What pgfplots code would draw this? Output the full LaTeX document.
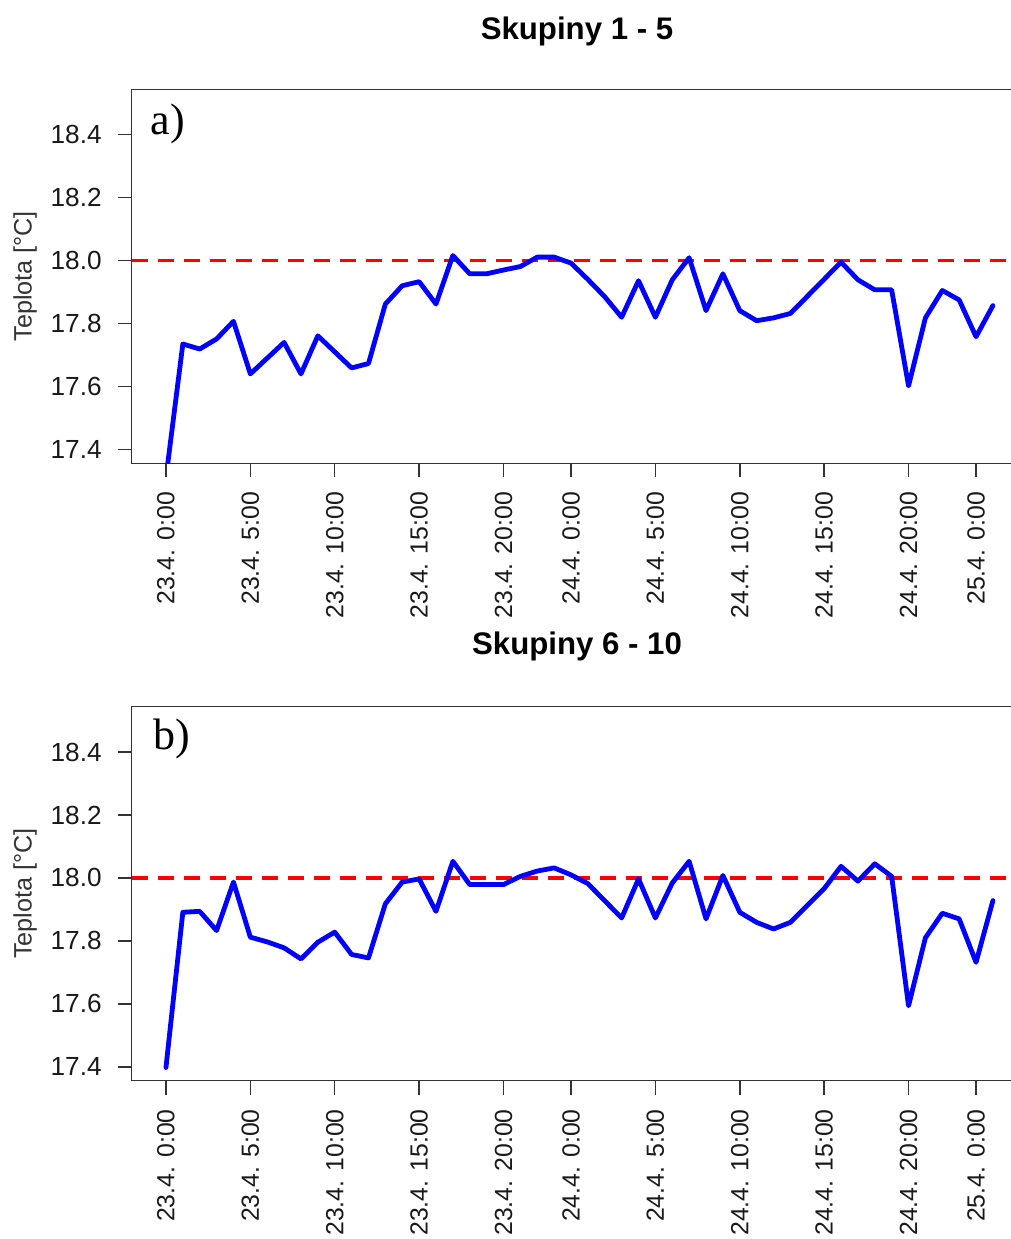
\documentclass[border=0pt]{standalone}
\usepackage{fontspec}
\setmainfont{Liberation Sans}
\newfontfamily\panelfont{Liberation Serif}
\usepackage{pgfplots}
\usepackage{pgfplotstable}
\pgfplotsset{compat=1.18}

% Hourly mean temperature, groups 1-5 (hours from 23.4. 0:00)
\pgfplotstableread{
h T
0 17.310
1 17.735
2 17.719
3 17.751
4 17.807
5 17.640
7 17.740
8 17.640
9 17.761
11 17.659
12 17.673
13 17.862
14 17.920
15 17.933
16 17.862
17 18.016
18 17.958
19 17.958
20 17.970
21 17.981
22 18.011
23 18.011
24 17.992
25 17.940
26 17.885
27 17.820
28 17.936
29 17.820
30 17.939
31 18.009
32 17.841
33 17.958
34 17.841
35 17.809
36 17.818
37 17.832
40 17.995
41 17.939
42 17.907
43 17.907
44 17.602
45 17.818
46 17.905
47 17.875
48 17.758
49 17.857
}\groupsA

% Hourly mean temperature, groups 6-10
\pgfplotstableread{
h T
0 17.398
1 17.891
2 17.894
3 17.833
4 17.987
5 17.812
6 17.797
7 17.778
8 17.743
9 17.796
10 17.828
11 17.757
12 17.746
13 17.918
14 17.987
15 17.997
16 17.894
17 18.053
18 17.979
19 17.979
20 17.979
21 18.005
22 18.022
23 18.032
24 18.010
25 17.982
27 17.873
28 17.997
29 17.873
30 17.984
31 18.053
32 17.870
33 18.008
34 17.891
35 17.859
36 17.838
37 17.859
39 17.966
40 18.037
41 17.990
42 18.045
43 18.005
44 17.594
45 17.810
46 17.888
47 17.870
48 17.732
49 17.928
}\groupsB

\pgfplotsset{
  tempaxis/.style={
    scale only axis,
    width=447.15pt, height=187pt,
    xmin=-2.03, xmax=50.96,
    ymin=17.356, ymax=18.544,
    xtick={0,5,10,15,20,24,29,34,39,44,48},
    xticklabels={23.4. 0:00,23.4. 5:00,23.4. 10:00,23.4. 15:00,23.4. 20:00,
                 24.4. 0:00,24.4. 5:00,24.4. 10:00,24.4. 15:00,24.4. 20:00,25.4. 0:00},
    ytick={17.4,17.6,17.8,18.0,18.2,18.4},
    yticklabel style={/pgf/number format/.cd, fixed, fixed zerofill, precision=1, /tikz/.cd,
      font=\fontsize{13.1}{15.5}\selectfont},
    /pgf/number format/assume math mode=true,
    tick align=outside,
    major tick length=7pt,
    xtick pos=bottom, ytick pos=left,
    xticklabel shift=3.8pt,
    yticklabel shift=4.5pt,
    axis line style={black!80, line width=0.75pt},
    major tick style={black!80, line width=0.75pt},
    ticklabel style={text=black!90},
    xticklabel style={rotate=90, anchor=east, font=\fontsize{12.4}{15}\selectfont},
    every axis y label/.style={at={(rel axis cs:0,0.5)}, xshift=-53.35pt, rotate=90, anchor=center,
      font=\fontsize{12.6}{15}\selectfont, text=black!80},
    ylabel={Teplota [°C]},
    clip=true,
  },
  templine/.style={blue, line width=2.4pt, line join=round, line cap=round},
  refline/.style={red, line width=1.6pt, dash pattern=on 8pt off 5pt},
}

\begin{document}
\begin{tikzpicture}
\useasboundingbox (0,0) rectangle (505.5pt,-619.5pt);
\clip (0,0) rectangle (505.5pt,-619.5pt);

\node[anchor=base, font=\bfseries\fontsize{15.6}{18}\selectfont] at (288.5pt,-19.65pt) {Skupiny 1 - 5};
\node[anchor=base, font=\bfseries\fontsize{15.6}{18}\selectfont] at (288.5pt,-327.15pt) {Skupiny 6 - 10};

\begin{axis}[tempaxis, at={(65.85pt,-44.65pt)}, anchor=north west]
  \addplot[refline] coordinates {(-2.03,18) (50.96,18)};
  \addplot[templine] table[x=h, y=T] {\groupsA};
  \node[anchor=base west, inner sep=0pt, font=\panelfont\fontsize{22}{25}\selectfont]
    at ([xshift=9.3pt, yshift=-22.4pt]rel axis cs:0,1) {a)};
\end{axis}

\begin{axis}[tempaxis, at={(65.85pt,-353.35pt)}, anchor=north west]
  \addplot[refline] coordinates {(-2.03,18) (50.96,18)};
  \addplot[templine] table[x=h, y=T] {\groupsB};
  \node[anchor=base west, inner sep=0pt, font=\panelfont\fontsize{22}{25}\selectfont]
    at ([xshift=10.6pt, yshift=-21.2pt]rel axis cs:0,1) {b)};
\end{axis}
\end{tikzpicture}
\end{document}
